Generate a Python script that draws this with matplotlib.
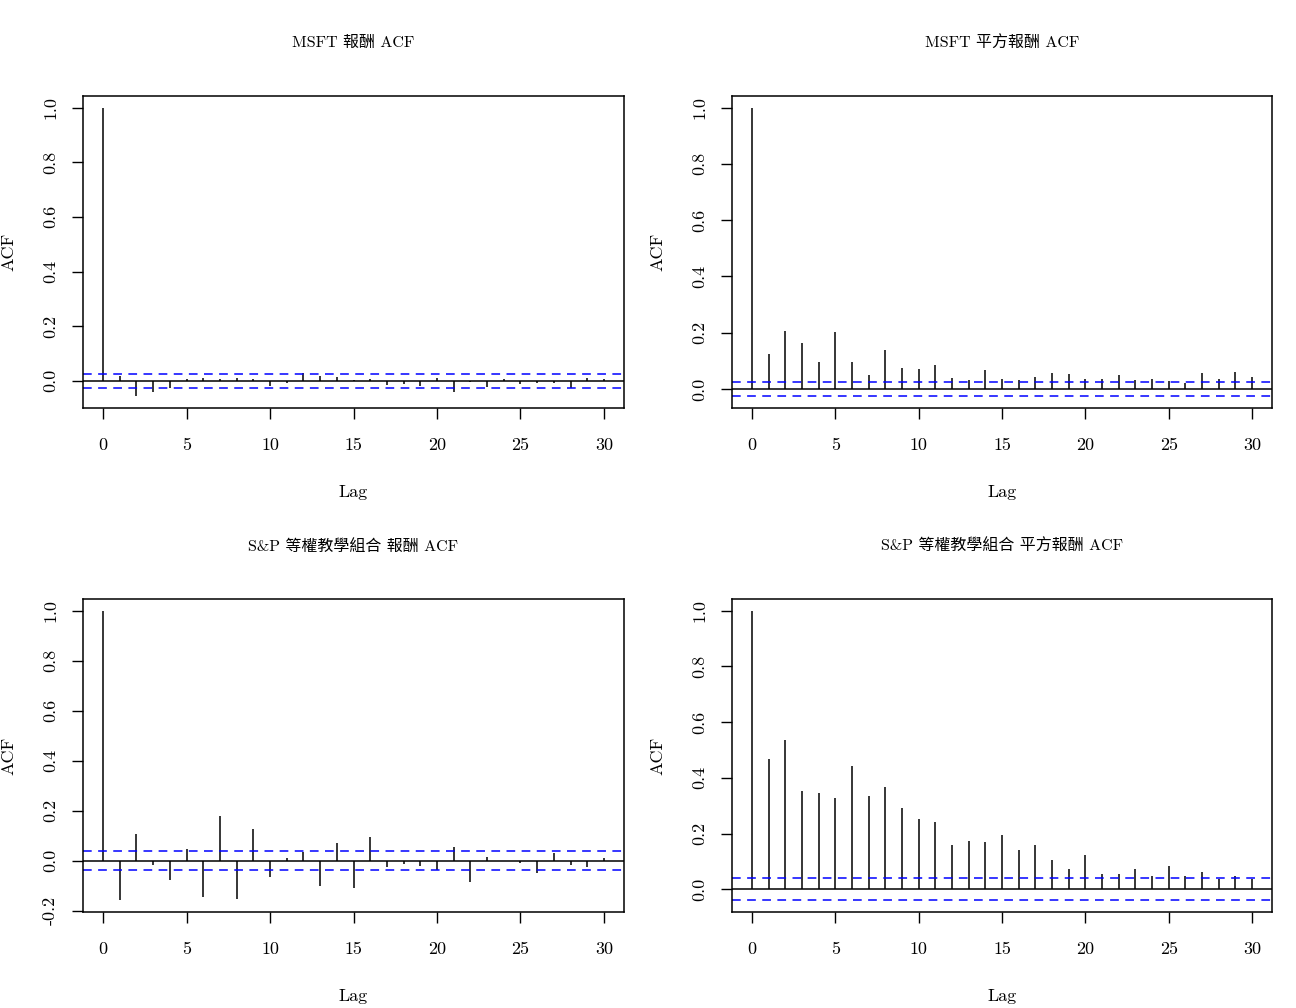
"""ACF plots of MSFT and S&P equal-weight portfolio returns (raw and squared)."""

import matplotlib

matplotlib.use("Agg")

import matplotlib.pyplot as plt

plt.rcParams["font.family"] = ["cmr10", "Noto Sans CJK TC", "DejaVu Sans"]
plt.rcParams["axes.unicode_minus"] = False
plt.rcParams["mathtext.fontset"] = "cm"

W, H = 1296, 1008

lags = list(range(31))

msft_ret_acf = [1.0, 0.017, -0.057, -0.039, -0.027, 0.005, 0.012, 0.005, 0.010,
                0.007, -0.019, -0.008, 0.027, 0.016, 0.013, 0.002, 0.008, -0.016,
                -0.012, -0.017, 0.012, -0.039, -0.005, -0.021, 0.007, -0.012,
                -0.007, -0.007, -0.027, 0.012, 0.005]
msft_sq_acf = [1.0, 0.125, 0.207, 0.164, 0.096, 0.203, 0.097, 0.051, 0.139,
               0.076, 0.072, 0.086, 0.040, 0.034, 0.069, 0.037, 0.032, 0.044,
               0.058, 0.053, 0.037, 0.035, 0.050, 0.033, 0.037, 0.028, 0.021,
               0.057, 0.035, 0.061, 0.043]
sp_ret_acf = [1.0, -0.159, 0.108, -0.019, -0.077, 0.048, -0.144, 0.179, -0.152,
              0.128, -0.067, 0.009, 0.033, -0.101, 0.069, -0.109, 0.095, -0.027,
              -0.012, -0.023, -0.037, 0.055, -0.084, 0.016, -0.002, -0.008,
              -0.048, 0.031, -0.017, -0.027, 0.009]
sp_sq_acf = [1.0, 0.468, 0.535, 0.352, 0.345, 0.327, 0.441, 0.333, 0.368,
             0.291, 0.251, 0.242, 0.160, 0.172, 0.171, 0.195, 0.140, 0.158,
             0.104, 0.071, 0.122, 0.056, 0.055, 0.072, 0.046, 0.083, 0.049,
             0.062, 0.037, 0.046, 0.038]

conf_limits = [0.026, 0.026, 0.039, 0.040]

titles = [
    "MSFT 報酬 ACF",
    "MSFT 平方報酬 ACF",
    "S&P 等權教學組合 報酬 ACF",
    "S&P 等權教學組合 平方報酬 ACF",
]

x_ticks = [0, 5, 10, 15, 20, 25, 30]

# pixel boxes (left, top, right, bottom) of each panel and its figure region
panels = [
    ((83, 96, 624, 408), 0),
    ((732, 96, 1272, 408), 649),
    ((83, 599, 624, 912), 0),
    ((732, 599, 1272, 912), 649),
]


def px_rect(x0, y0, x1, y1):
    return [x0 / W, 1 - y1 / H, (x1 - x0) / W, (y1 - y0) / H]


fig = plt.figure(figsize=(W / 100, H / 100), dpi=100)

for (box, region_left), acf, clim, title in zip(
    panels, [msft_ret_acf, msft_sq_acf, sp_ret_acf, sp_sq_acf], conf_limits, titles
):
    x0, y0, x1, y1 = box
    ax = fig.add_axes(px_rect(x0, y0, x1, y1))

    ax.vlines(lags, 0, acf, color="black", lw=1.1)
    ax.axhline(0, color="black", lw=1.1)
    for c in (clim, -clim):
        ax.axhline(c, color="#0000ff", lw=1.1, linestyle=(0, (5.7, 4.2)))

    lo = min(min(acf), -clim)
    hi = max(max(acf), clim)
    pad = 0.04 * (hi - lo)
    ax.set_ylim(lo - pad, hi + pad)
    ax.set_xlim(-1.2, 31.2)

    ax.set_xticks(x_ticks)
    ax.set_xticklabels([str(t) for t in x_ticks])
    yt = [v / 10 for v in range(-2, 11, 2) if v / 10 >= lo - pad - 1e-9]
    ax.set_yticks(yt)
    ax.set_yticklabels([f"{v:.1f}" for v in yt], rotation=90, va="center")

    ax.tick_params(direction="out", length=8, width=1.0, labelsize=13)
    ax.tick_params(axis="x", pad=13.5)
    ax.tick_params(axis="y", pad=10)
    for s in ax.spines.values():
        s.set_linewidth(1.1)

    cx = (x0 + x1) / 2 / W
    fig.text(cx, 1 - (y0 - 53) / H, title, ha="center", va="center", fontsize=11.5)
    fig.text(cx, 1 - (y1 + 84) / H, "Lag", ha="center", va="center", fontsize=13)
    fig.text((region_left + 1) / W, 1 - (y0 + y1) / 2 / H, "ACF",
             rotation=90, ha="left", va="center", fontsize=13)

fig.savefig("out.png", dpi=100, facecolor="white")
